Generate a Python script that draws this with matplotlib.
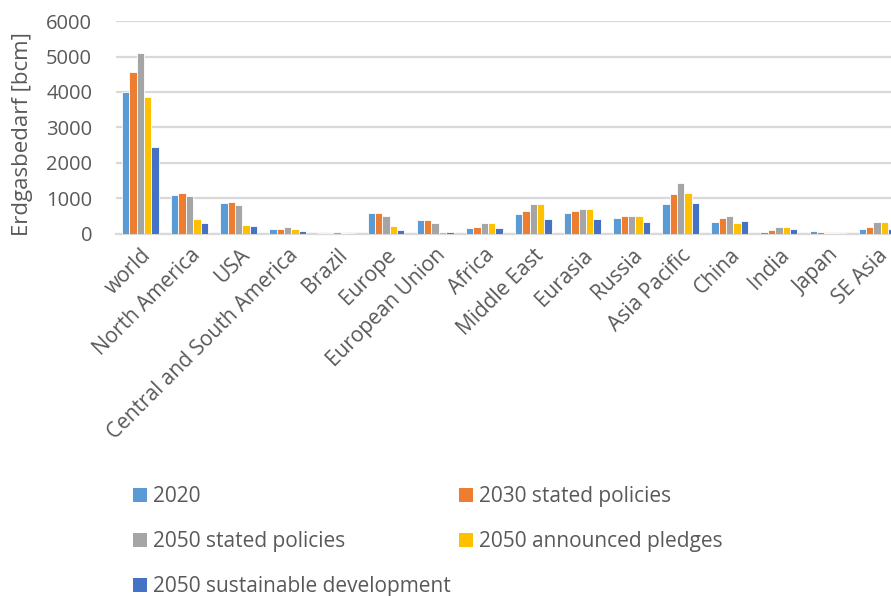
import numpy as np
import matplotlib
matplotlib.use("Agg")
import matplotlib.pyplot as plt
from matplotlib.patches import Patch

regions = ["world", "North America", "USA", "Central and South America", "Brazil",
           "Europe", "European Union", "Africa", "Middle East", "Eurasia", "Russia",
           "Asia Pacific", "China", "India", "Japan", "SE Asia"]

series_names = ["2020", "2030 stated policies", "2050 stated policies",
                "2050 announced pledges", "2050 sustainable development"]

demand_2020 = [4000, 1090, 860, 127, 25, 580, 380, 145, 550, 575, 452, 825, 316, 40, 75, 140]
demand_2030_sp = [4550, 1145, 890, 136, 25, 580, 380, 193, 635, 650, 508, 1107, 429, 100, 60, 200]
demand_2050_sp = [5110, 1060, 797, 175, 35, 485, 290, 305, 833, 687, 508, 1418, 495, 175, 30, 315]
demand_2050_ap = [3850, 400, 240, 135, 10, 212, 40, 300, 833, 687, 508, 1144, 293, 175, 15, 315]
demand_2050_sd = [2440, 305, 212, 70, 10, 100, 40, 155, 410, 400, 330, 864, 350, 120, 20, 130]

colors = ["#5B9BD5", "#ED7D31", "#A5A5A5", "#FFC000", "#4472C4"]
text_color = "#595959"
font = ["Open Sans", "DejaVu Sans"]

plt.rcParams["font.family"] = font

fig = plt.figure(figsize=(8.91, 5.96), dpi=100)
ax = fig.add_axes([0.130, 0.608, 0.882, 0.3566])

data = [demand_2020, demand_2030_sp, demand_2050_sp, demand_2050_ap, demand_2050_sd]
x = np.arange(len(regions))
bw = 0.15
for i, (vals, col) in enumerate(zip(data, colors)):
    ax.bar(x + (i - 2) * bw, vals, width=bw, color=col, edgecolor="white",
           linewidth=0.6, zorder=3)

ax.set_xlim(-0.5, len(regions) - 0.5)
ax.set_ylim(0, 6000)
ax.set_yticks(np.arange(0, 6001, 1000))
ax.yaxis.grid(True, color="#D9D9D9", linewidth=1.6, zorder=0)
ax.set_axisbelow(True)
for s in ["top", "right", "left"]:
    ax.spines[s].set_visible(False)
ax.spines["bottom"].set_color("#D9D9D9")
ax.spines["bottom"].set_linewidth(1.6)
ax.tick_params(axis="both", length=0, colors=text_color)
ax.tick_params(axis="y", pad=17, labelsize=14.5)
ax.set_xticks(x)
ax.set_xticklabels(regions, rotation=45, ha="right", rotation_mode="anchor",
                   fontsize=15, color=text_color)
ax.tick_params(axis="x", pad=8)
ax.set_ylabel("Erdgasbedarf [bcm]", fontsize=16, color=text_color)
ax.yaxis.set_label_coords(-0.106, 0.47)

# Legend laid out in two columns, drawn as two separate legends
handles = [Patch(facecolor=c, edgecolor="none") for c in colors]
left_idx = [0, 2, 4]
right_idx = [1, 3]
common = dict(frameon=False, fontsize=15, handlelength=0.67, handleheight=0.67,
              handletextpad=0.29, labelspacing=1.15, borderaxespad=0, borderpad=0,
              labelcolor=text_color, loc="upper left")
fig.legend([handles[i] for i in left_idx], [series_names[i] for i in left_idx],
           bbox_to_anchor=(0.149, 0.184), **common)
fig.legend([handles[i] for i in right_idx], [series_names[i] for i in right_idx],
           bbox_to_anchor=(0.515, 0.184), **common)

fig.savefig("out.png", dpi=100)
